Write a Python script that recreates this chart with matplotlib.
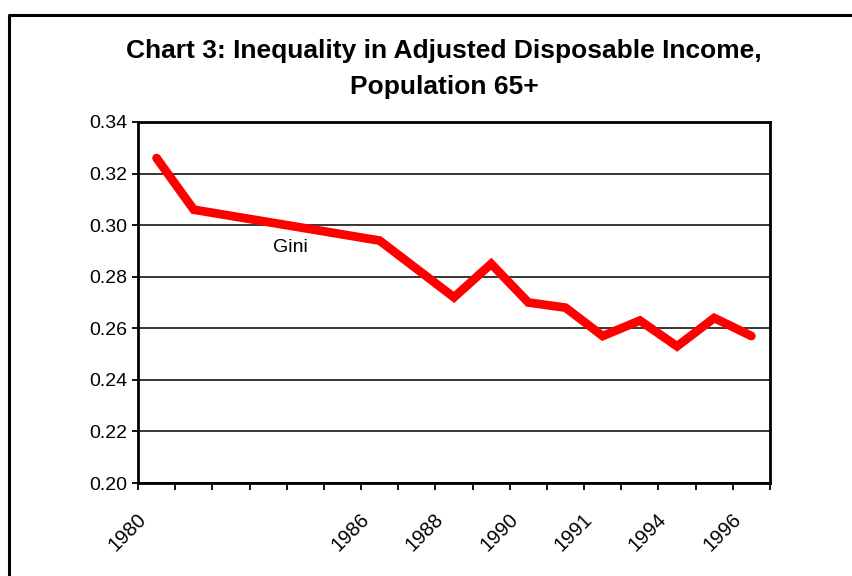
import matplotlib
matplotlib.use("Agg")
import matplotlib.pyplot as plt
from matplotlib.lines import Line2D
from matplotlib.transforms import ScaledTranslation
import numpy as np

plt.rcParams['font.family'] = ['Liberation Sans', 'DejaVu Sans']

# Category labels (17 categories, blanks where no label is printed)
categories = ['1980', '', '', '', '', '', '1986', '', '1988', '', '1990', '',
              '1991', '', '1994', '', '1996']
# Gini values per category (None = no data point, line connects neighbours)
gini = [0.326, 0.306, None, None, None, None, 0.294, None, 0.272, 0.285,
        0.270, 0.268, 0.257, 0.263, 0.253, 0.264, 0.257]
yticks = [0.20, 0.22, 0.24, 0.26, 0.28, 0.30, 0.32, 0.34]
title = "Chart 3: Inequality in Adjusted Disposable Income,\nPopulation 65+"
series_label = "Gini"

fig = plt.figure(figsize=(8.52, 5.76), dpi=100)
ax = fig.add_axes([138/852, 1-483/576, (770-138)/852, (483-122)/576])

xs = [i for i, v in enumerate(gini) if v is not None]
ys = [v for v in gini if v is not None]
ax.plot(xs, ys, color='#ff0000', lw=6.3, solid_joinstyle='miter',
        solid_capstyle='round', zorder=3)

n = len(categories)
ax.set_xlim(-0.5, n - 0.5)
ax.set_ylim(0.20, 0.34)

# tick marks between categories, labels at category centers
ax.set_xticks(np.arange(n + 1) - 0.5)
ax.set_xticklabels([])
ax.set_xticks(np.arange(n), minor=True)
ax.set_xticklabels(categories, minor=True, rotation=45, ha='right',
                   rotation_mode='anchor', fontsize=14.5)
ax.tick_params(axis='x', which='major', direction='out', length=5, width=1.3)
ax.tick_params(axis='x', which='minor', length=0, pad=19)
shift = ScaledTranslation(-20/100, 0, fig.dpi_scale_trans)
for lab in ax.get_xticklabels(minor=True):
    lab.set_transform(lab.get_transform() + shift)

ax.set_yticks(yticks)
ax.set_yticklabels([f"{v:.2f}" for v in yticks], fontsize=14)
ax.tick_params(axis='y', direction='out', length=4, width=1.3, pad=4)

ax.grid(axis='y', color='black', lw=1.1)
ax.set_axisbelow(True)
for s in ax.spines.values():
    s.set_color('black')
    s.set_linewidth(2)

ax.text(3.6, 0.2912, series_label, fontsize=14, ha='center', va='center')

fig.text(444/852, 1-69/576, title, ha='center', va='center', fontsize=19,
         fontweight='bold', linespacing=1.6)

# outer frame (top and left)
fig.add_artist(Line2D([9/852, 9/852, 1.0], [0.0, 1-15/576, 1-15/576],
                      transform=fig.transFigure, color='black', lw=2.2))

fig.savefig("out.png", dpi=100)
